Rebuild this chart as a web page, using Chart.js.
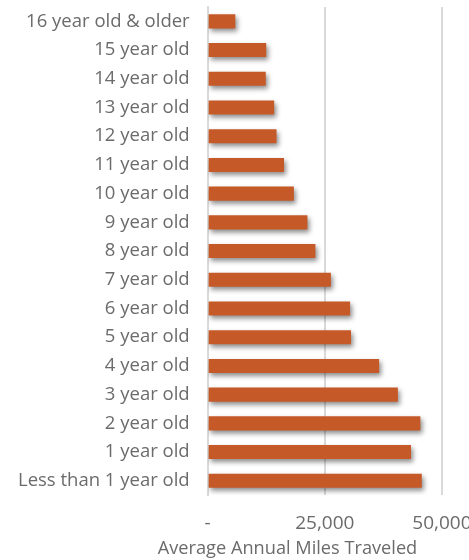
<!DOCTYPE html>
<html>
<head>
<meta charset="utf-8">
<script src="https://cdn.jsdelivr.net/npm/chart.js@4"></script>
<style>
  html, body { margin: 0; padding: 0; background: #fff; overflow: hidden; }
  #wrap { width: 575px; height: 560px; }
</style>
</head>
<body>
<div id="wrap"><canvas id="barChart"></canvas></div>
<script>
// Vehicle age categories (top to bottom)
var ageLabels = [
    '16 year old & older', '15 year old', '14 year old', '13 year old',
    '12 year old', '11 year old', '10 year old', '9 year old', '8 year old',
    '7 year old', '6 year old', '5 year old', '4 year old', '3 year old',
    '2 year old', '1 year old', 'Less than 1 year old'
];

// Average annual miles traveled per age group
var milesValues = [
    5900, 12500, 12400, 14200, 14700, 16300, 18400, 21300, 23000,
    26300, 30400, 30600, 36600, 40600, 45400, 43400, 45700
];

// Tick values shown on the x axis
var tickValues = [0, 25000, 50000];

var textColor = '#6b6b6b';
var fontFamily = "'Open Sans', sans-serif";

// Soft drop shadow under the bars
var barShadow = {
    id: 'barShadow',
    beforeDatasetsDraw: function(chart) {
        var ctx = chart.ctx;
        ctx.save();
        ctx.shadowColor = 'rgba(0, 0, 0, 0.45)';
        ctx.shadowBlur = 5;
        ctx.shadowOffsetX = 2;
        ctx.shadowOffsetY = 3;
    },
    afterDatasetsDraw: function(chart) {
        chart.ctx.restore();
    }
};

function generateBarChart() {
    var ctx = document.getElementById('barChart').getContext('2d');

    new Chart(ctx, {
        type: 'bar',
        data: {
            labels: ageLabels,
            datasets: [{
                label: 'Average Annual Miles Traveled',
                data: milesValues,
                backgroundColor: '#C55A28',
                borderWidth: 0,
                barPercentage: 0.49,
                categoryPercentage: 1
            }]
        },
        plugins: [barShadow],
        options: {
            responsive: true,
            maintainAspectRatio: false,
            animation: false,
            indexAxis: 'y',
            layout: {
                padding: { left: 0, top: 7, right: 0, bottom: 0 }
            },
            scales: {
                x: {
                    min: 0,
                    max: 78400,
                    afterBuildTicks: function(axis) {
                        axis.ticks = tickValues.map(v => ({ value: v }));
                    },
                    afterFit: function(axis) {
                        // keep the label band tight under the plot
                        axis.height = 43;
                    },
                    grid: {
                        color: '#d9d9d9',
                        lineWidth: 2,
                        drawTicks: false
                    },
                    border: { display: false },
                    ticks: {
                        color: textColor,
                        font: { family: fontFamily, size: 19 },
                        padding: 17.5,
                        maxRotation: 0,
                        callback: function(value) {
                            return value === 0 ? '-' : value.toLocaleString('en-US');
                        }
                    }
                },
                y: {
                    afterFit: function(axis) {
                        axis.paddingTop = 0;
                        axis.paddingBottom = 0;
                    },
                    grid: { display: false, drawTicks: false },
                    border: { display: true, color: '#d9d9d9', width: 2 },
                    ticks: {
                        color: textColor,
                        font: { family: fontFamily, size: 18.5 },
                        padding: 18
                    }
                }
            },
            plugins: {
                legend: { display: false },
                tooltip: { enabled: false },
                title: {
                    display: true,
                    position: 'bottom',
                    text: 'Average Annual Miles Traveled',
                    color: textColor,
                    font: { family: fontFamily, size: 18.2, weight: 'normal' },
                    padding: { top: 0, bottom: 0 }
                }
            }
        }
    });
}

generateBarChart();
</script>
</body>
</html>
